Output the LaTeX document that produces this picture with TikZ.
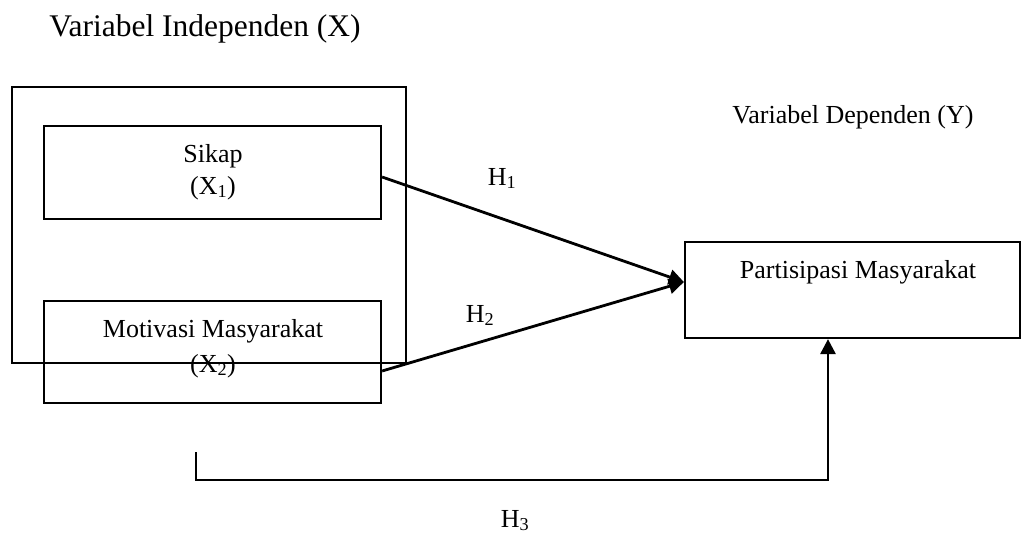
\documentclass[tikz,border=0pt]{standalone}
\usepackage{fontspec}
\setmainfont{Liberation Serif}
\usetikzlibrary{arrows.meta}
\begin{document}
\begin{tikzpicture}[x=1pt,y=-1pt,
  box/.style={draw, line width=2.2pt, inner sep=0pt},
  lbl/.style={font=\fontsize{26}{31}\selectfont, inner sep=0pt, anchor=base},
  conn/.style={line width=2.8pt, -{Triangle[length=15pt,width=15pt]}}]
\useasboundingbox (0,0) rectangle (1022,535);
% boxes
\node[box, minimum width=394pt, minimum height=276pt] (outer) at (209,225) {};
\node[box, minimum width=337pt, minimum height=93pt] (sik) at (212.5,172.5) {};
\node[box, minimum width=337pt, minimum height=102pt] (mot) at (212.5,352) {};
\node[box, minimum width=335pt, minimum height=96pt] (par) at (852.5,290) {};
% texts
\node[lbl, font=\fontsize{31.5}{36}\selectfont] (tx) at (205,37) {Variabel Independen (X)};
\node[lbl] (ty) at (853,123) {Variabel Dependen (Y)};
\node[lbl] (sik1) at (213,162) {Sikap};
\node[lbl] (sik2) at (213,194) {(X\textsubscript{1})};
\node[lbl] (mot1) at (213,337) {Motivasi Masyarakat};
\node[lbl] (mot2) at (213,372) {(X\textsubscript{2})};
\node[lbl] (par1) at (858,278) {Partisipasi Masyarakat};
\node[lbl] (h1) at (502,185) {H\textsubscript{1}};
\node[lbl] (h2) at (480,322) {H\textsubscript{2}};
\node[lbl] (h3) at (515,527) {H\textsubscript{3}};
% connectors
\draw[conn] ([yshift=-4.5pt]sik.east) -- ([yshift=8pt]par.west);
\draw[conn] ([yshift=-19pt]mot.east) -- ([yshift=8pt]par.west);
\coordinate (h3s) at (196,452);
\coordinate (h3c) at (828,480);
\draw[conn] (h3s) |- (h3c) -- ([xshift=-24.5pt]par.south);
\end{tikzpicture}
\end{document}
